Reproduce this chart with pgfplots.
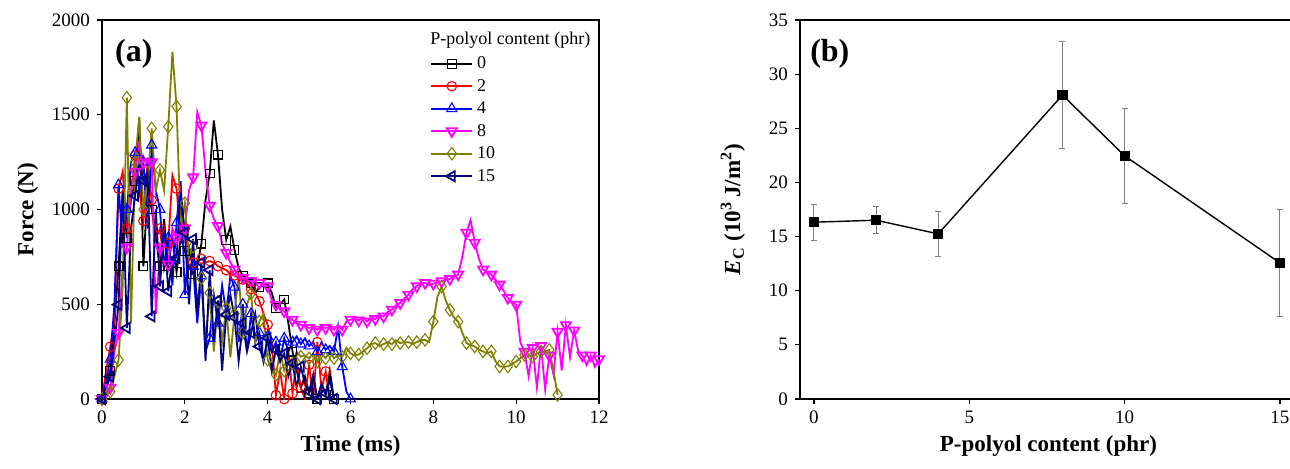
\documentclass[border=0pt]{standalone}
\usepackage{fontspec}
\setmainfont{Liberation Serif}
\usepackage{pgfplots}
\pgfplotsset{compat=1.18}
\definecolor{cred}{RGB}{255,0,0}
\definecolor{cblue}{RGB}{0,0,255}
\definecolor{cmag}{RGB}{255,0,255}
\definecolor{colive}{RGB}{128,128,0}
\definecolor{cnavy}{RGB}{0,0,128}
\begin{document}
\begin{tikzpicture}
\pgfplotsset{
  common/.style={
    scale only axis, width=248.5pt, height=189.5pt,
    anchor=south west,
    tick align=outside, xtick pos=bottom, ytick pos=left,
    major tick length=2.5pt,
    scaled ticks=false,
    /pgf/number format/1000 sep={},
    /pgf/number format/assume math mode=true,
    tick label style={font=\fontsize{9.5}{10}\selectfont},
    label style={font=\bfseries\fontsize{11.5}{13}\selectfont},
    axis line style={line width=0.8pt},
    every tick/.style={black, line width=0.6pt},
    xlabel style={at={(axis description cs:0.5,-0.124)}, anchor=center},
    ylabel style={anchor=center},
  },
}
\begin{axis}[common, at={(51pt,34.5pt)},
  xmin=0, xmax=12, ymin=0, ymax=2000,
  xtick={0,2,...,12}, ytick={0,500,...,2000},
  xlabel={Time (ms)}, ylabel={Force (N)},
  ylabel style={at={(axis description cs:-0.149,0.5)}},
  every axis plot/.append style={line width=0.9pt, mark repeat=2, mark phase=1, mark options={solid, fill=white, line width=0.55pt}},
  legend style={at={(rel axis cs:0.66,0.9095)}, anchor=north west, draw=none, fill=none, inner sep=0pt,
    font=\fontsize{9}{10}\selectfont, row sep=2.25pt,
    nodes={inner sep=0.5pt, text height=6.5pt, text depth=1.5pt},
    /tikz/every odd column/.append style={column sep=1.5pt}},
  legend cell align=left,
  legend image code/.code={\draw[mark repeat=2,mark phase=2,#1] plot coordinates {(0pt,0pt) (10.25pt,0pt) (20.5pt,0pt)};}
]
% 0 phr
\addplot[black, mark=square, mark size=2.2pt] coordinates {
(0,0)(0.1,80)(0.2,150)(0.3,400)(0.4,700)(0.5,1100)(0.6,850)(0.7,1050)(0.8,1150)(0.9,1480)
(1.0,700)(1.1,1100)(1.2,1000)(1.3,850)(1.4,700)(1.5,950)(1.6,700)(1.7,850)(1.8,670)(1.9,850)
(2.0,780)(2.1,700)(2.2,660)(2.3,700)(2.4,820)(2.5,1050)(2.6,1190)(2.7,1470)(2.8,1290)(2.9,1000)
(3.0,840)(3.1,910)(3.2,786)(3.3,690)(3.4,650)(3.5,640)(3.6,610)(3.7,560)(3.8,590)(3.9,600)
(4.0,610)(4.1,560)(4.2,480)(4.3,500)(4.4,525)(4.5,400)(4.6,250)(4.7,150)(4.8,60)(4.9,120)
(5.0,30)(5.1,100)(5.2,0)(5.3,80)(5.4,20)(5.5,150)(5.6,0)};
\addlegendentry{0}
% 2 phr
\addplot[cred, mark=o, mark size=2.4pt] coordinates {
(0,0)(0.1,150)(0.2,276)(0.3,420)(0.4,1110)(0.5,1200)(0.6,900)(0.7,1100)(0.8,1285)(0.9,1100)
(1.0,940)(1.1,1250)(1.2,1050)(1.3,850)(1.4,900)(1.5,700)(1.6,820)(1.7,1180)(1.8,1110)(1.9,850)
(2.0,900)(2.1,750)(2.2,720)(2.3,730)(2.4,740)(2.5,720)(2.6,728)(2.7,720)(2.8,701)(2.9,690)
(3.0,680)(3.1,660)(3.2,652)(3.3,640)(3.4,630)(3.5,610)(3.6,580)(3.7,560)(3.8,516)(3.9,450)
(4.0,392)(4.1,300)(4.2,20)(4.3,150)(4.4,0)(4.5,250)(4.6,30)(4.7,200)(4.8,60)(4.9,0)
(5.0,180)(5.1,0)(5.2,300)(5.3,50)(5.4,145)(5.5,0)};
\addlegendentry{2}
% 4 phr
\addplot[cblue, mark=triangle, mark size=2.9pt] coordinates {
(0,0)(0.1,100)(0.2,210)(0.3,500)(0.4,1130)(0.5,800)(0.6,1000)(0.7,1250)(0.8,1300)(0.9,1100)
(1.0,1250)(1.1,900)(1.2,1340)(1.3,1100)(1.4,1000)(1.5,700)(1.6,850)(1.7,600)(1.8,930)(1.9,1150)
(2.0,550)(2.1,800)(2.2,700)(2.3,400)(2.4,650)(2.5,250)(2.6,320)(2.7,550)(2.8,400)(2.9,600)
(3.0,450)(3.1,650)(3.2,590)(3.3,300)(3.4,500)(3.5,250)(3.6,450)(3.7,300)(3.8,350)(3.9,200)
(4.0,330)(4.1,250)(4.2,300)(4.3,200)(4.4,320)(4.5,250)(4.6,300)(4.7,330)(4.8,290)(4.9,320)
(5.0,280)(5.1,300)(5.2,250)(5.3,300)(5.4,260)(5.5,280)(5.6,250)(5.7,380)(5.8,170)(5.9,40)(6.0,0)};
\addlegendentry{4}
% 8 phr
\addplot[cmag, mark=triangle, mark options={rotate=180}, mark size=2.9pt] coordinates {
(0,0)(0.1,30)(0.2,60)(0.3,250)(0.4,350)(0.5,700)(0.6,800)(0.7,1100)(0.8,1200)(0.9,1350)
(1.0,1250)(1.1,1270)(1.2,1250)(1.3,450)(1.4,800)(1.5,700)(1.6,710)(1.7,900)(1.8,850)(1.9,950)
(2.0,900)(2.1,1100)(2.2,1170)(2.3,1514)(2.4,1444)(2.5,1200)(2.6,1020)(2.7,950)(2.8,913)(2.9,820)
(3.0,772)(3.1,720)(3.2,684)(3.3,650)(3.4,640)(3.5,630)(3.6,625)(3.7,615)(3.8,613)(3.9,600)
(4.0,595)(4.1,520)(4.2,498)(4.3,480)(4.4,463)(4.5,430)(4.6,419)(4.7,400)(4.8,392)(4.9,385)
(5.0,375)(5.1,380)(5.2,366)(5.3,380)(5.4,375)(5.5,380)(5.6,366)(5.7,390)(5.8,366)(5.9,410)
(6.0,419)(6.1,425)(6.2,415)(6.3,430)(6.4,410)(6.5,430)(6.6,422)(6.7,440)(6.8,436)(6.9,460)
(7.0,472)(7.1,495)(7.2,507)(7.3,530)(7.4,551)(7.5,580)(7.6,595)(7.7,610)(7.8,613)(7.9,600)
(8.0,609)(8.1,615)(8.2,622)(8.3,630)(8.4,634)(8.5,645)(8.6,657)(8.7,750)(8.8,878)(8.9,945)
(9.0,825)(9.1,740)(9.2,684)(9.3,670)(9.4,657)(9.5,630)(9.6,604)(9.7,570)(9.8,534)(9.9,510)
(10.0,498)(10.1,300)(10.2,250)(10.3,120)(10.4,270)(10.5,60)(10.6,280)(10.7,50)(10.8,230)(10.9,130)
(11.0,355)(11.1,150)(11.2,390)(11.3,220)(11.4,362)(11.5,250)(11.6,230)(11.7,180)(11.8,230)(11.9,170)(12.0,210)};
\addlegendentry{8}
% 10 phr
\addplot[colive, mark=diamond, mark size=3.1pt] coordinates {
(0,0)(0.1,20)(0.2,39)(0.3,120)(0.4,206)(0.5,600)(0.6,1590)(0.7,400)(0.8,1250)(0.9,1490)
(1.0,1000)(1.1,1150)(1.2,1428)(1.3,1100)(1.4,1208)(1.5,1100)(1.6,1437)(1.7,1833)(1.8,1543)(1.9,900)
(2.0,1033)(2.1,750)(2.2,804)(2.3,500)(2.4,637)(2.5,300)(2.6,560)(2.7,250)(2.8,514)(2.9,300)
(3.0,480)(3.1,220)(3.2,450)(3.3,650)(3.4,350)(3.5,500)(3.6,557)(3.7,300)(3.8,410)(3.9,450)
(4.0,207)(4.1,150)(4.2,127)(4.3,250)(4.4,150)(4.5,200)(4.6,188)(4.7,250)(4.8,223)(4.9,230)
(5.0,215)(5.1,240)(5.2,197)(5.3,240)(5.4,215)(5.5,250)(5.6,215)(5.7,230)(5.8,223)(5.9,270)
(6.0,241)(6.1,230)(6.2,235)(6.3,250)(6.4,268)(6.5,290)(6.6,295)(6.7,280)(6.8,290)(6.9,300)
(7.0,290)(7.1,310)(7.2,295)(7.3,300)(7.4,300)(7.5,290)(7.6,300)(7.7,310)(7.8,312)(7.9,300)
(8.0,408)(8.1,540)(8.2,593)(8.3,520)(8.4,470)(8.5,430)(8.6,408)(8.7,350)(8.8,295)(8.9,285)
(9.0,277)(9.1,260)(9.2,251)(9.3,240)(9.4,251)(9.5,200)(9.6,172)(9.7,170)(9.8,172)(9.9,185)
(10.0,198)(10.1,215)(10.2,233)(10.3,230)(10.4,224)(10.5,240)(10.6,251)(10.7,250)(10.8,259)(10.9,150)(11.0,22)};
\addlegendentry{10}
% 15 phr
\addplot[cnavy, mark=triangle, mark options={rotate=90}, mark size=2.9pt] coordinates {
(0,0)(0.1,60)(0.2,118)(0.3,300)(0.4,498)(0.5,1100)(0.6,375)(0.7,900)(0.8,1073)(0.9,1250)
(1.0,1152)(1.1,1200)(1.2,436)(1.3,1000)(1.4,595)(1.5,900)(1.6,569)(1.7,750)(1.8,745)(1.9,1100)
(2.0,878)(2.1,500)(2.2,843)(2.3,450)(2.4,720)(2.5,200)(2.6,680)(2.7,300)(2.8,520)(2.9,150)
(3.0,445)(3.1,550)(3.2,430)(3.3,200)(3.4,400)(3.5,250)(3.6,350)(3.7,450)(3.8,277)(3.9,200)
(4.0,322)(4.1,150)(4.2,260)(4.3,200)(4.4,240)(4.5,120)(4.6,189)(4.7,60)(4.8,171)(4.9,80)
(5.0,40)(5.1,130)(5.2,0)(5.3,80)(5.4,30)(5.5,100)(5.6,0)};
\addlegendentry{15}
\node[anchor=west, font=\fontsize{9}{10}\selectfont, inner sep=0pt] at (rel axis cs:0.66,0.947) {P-polyol content (phr)};
\node[font=\bfseries\fontsize{16}{18}\selectfont, inner sep=0pt] at (rel axis cs:0.064,0.91) {(a)};
\end{axis}

\begin{axis}[common, at={(400pt,34.5pt)},
  xmin=-0.45, xmax=15.55, ymin=0, ymax=35,
  xtick={0,5,10,15}, ytick={0,5,...,35},
  xlabel={P-polyol content (phr)},
  ylabel={\textit{E}\textsubscript{C} (10\textsuperscript{3}\,J/m\textsuperscript{2})},
  ylabel style={at={(axis description cs:-0.135,0.5)}}]
\addplot[black, line width=0.7pt, mark=square*, mark size=2.2pt, mark options={fill=black, solid},
  error bars/.cd, y dir=both, y explicit,
  error bar style={gray, line width=0.5pt},
  error mark options={gray, rotate=90, mark size=1.5pt, line width=0.5pt}]
  coordinates {(0,16.33) +- (0,1.66) (2,16.51) +- (0,1.25) (4,15.25) +- (0,2.10)
  (8,28.07) +- (0,4.93) (10,22.46) +- (0,4.40) (15,12.57) +- (0,4.96)};
\node[font=\bfseries\fontsize{16}{18}\selectfont, inner sep=0pt] at (rel axis cs:0.060,0.91) {(b)};
\end{axis}
\pgfresetboundingbox
\useasboundingbox (0,0) rectangle (645pt,234pt);
\end{tikzpicture}
\end{document}
